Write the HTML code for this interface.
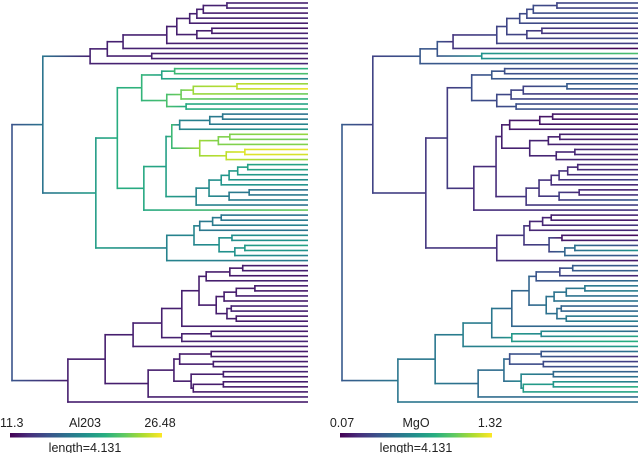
<!DOCTYPE html>
<html><head><meta charset="utf-8"><style>
html,body{margin:0;padding:0;background:#fff;width:640px;height:453px;overflow:hidden}
svg{display:block}
text{font-family:"Liberation Sans",sans-serif;font-size:12.5px;fill:#222}
</style></head><body>
<svg id="chart" width="640" height="453" viewBox="0 0 640 453" xmlns="http://www.w3.org/2000/svg">
<defs id="defs"></defs>
<g id="left"></g>
<g id="right"></g>
<g>
<rect x="10" y="433" width="152" height="4.5" fill="url(#cbar)"/>
<text x="0" y="427">11.3</text>
<text x="85" y="427" text-anchor="middle">Al203</text>
<text x="160" y="427" text-anchor="middle">26.48</text>
<text x="85" y="452" text-anchor="middle">length=4.131</text>
</g>
<g>
<rect x="340" y="433" width="152" height="4.5" fill="url(#cbar)"/>
<text x="342" y="427" text-anchor="middle">0.07</text>
<text x="416" y="427" text-anchor="middle">MgO</text>
<text x="490" y="427" text-anchor="middle">1.32</text>
<text x="416" y="452" text-anchor="middle">length=4.131</text>
</g>
</svg>
<script>
// Tree topology: [depth, children...]; 0 = leaf (values consumed in order)
const treeHeight = 4.131;
const topology =
[0,
 [0.43,
  [1.09,
   [1.33,
    [1.55,
     [2.16,
      [2.30,
       [2.48,[2.58,[2.67,[3.0,0,0],0],0],0],
       [2.58,[2.79,0,0],0]],
      0],
     0],
    [1.95,0,0]],
   0],
  [1.17,
   [1.47,
    [1.81,
     [2.09,[2.27,0,0],0],
     [2.16,[2.36,[2.53,[3.14,0,0],0],0],[2.43,0,0]]],
    [1.84,
     [2.15,
      [2.23,
       [2.34,[2.76,[2.94,0,0],0],0],
       [2.62,[2.88,[3.04,0,0],0],[2.99,[3.25,0,0],0]]],
      [2.57,
       [2.75,[2.92,[3.03,[3.15,[3.29,0,0],0],0],0],[3.03,[3.31,0,0],0]],
       0]],
     0]],
   [2.16,
    [2.54,
     [2.62,[2.80,[2.92,0,0],0],0],
     [2.89,[3.07,0,0],[3.11,[3.25,0,0],0]]],
    0]]],
 [0.78,
  [1.30,
   [1.69,
    [2.09,
     [2.37,
      [2.61,
       [2.71,[3.04,[3.22,0,0],0],0],
       [2.85,[2.96,[3.13,[3.39,0,0],0],0],[3.00,[3.06,0,0],[3.13,0,0]]]],
      0],
     [2.37,[2.78,0,0],0]],
    0],
   [1.90,
    [2.26,[2.34,[2.78,0,0],[2.81,0,0]],[2.50,[2.95,0,0],[2.53,[2.95,0,0],0]]],
    0]],
  0]];
const alValues = [12.6,12.9,12.4,12.8,12.5,12.2,12.7,12.9,12.5,13.0,12.7,12.4,12.9,
 21,22,18, 24,26,23,21,20,21, 17,17.5,18,19, 24,23,23.5,26,25.5,24, 20,20,19,18.5,19,17,17.5,18,17, 23,
 17,17.5,18,17,18.5,19,20,19,18,17.5,
 12.4,12.6,12.2,12.8,12.5,12.3,12.7,12.4,12.9,12.6,12.3,12.5,12.8,12.4,
 12.6,12.9,12.5,12.4,12.2,12.5,12.7,12.8,12.4,12.6,12.3,12.5,12.7,12.4,12.8];
const mgoValues = [0.35,0.3,0.4,0.33,0.35,0.25,0.28,0.35,0.3,0.08,0.95,0.45,0.45,
 0.35,0.4,0.45, 0.45,0.4,0.15,0.35,0.3,0.45, 0.15,0.15,0.12,0.18, 0.2,0.15,0.2,0.22,0.18,0.2, 0.2,0.22,0.25,0.3,0.2,0.18,0.25,0.4,0.3, 0.25,
 0.2,0.15,0.25,0.2,0.1,0.2,0.35,0.7,0.4,0.15,
 0.4,0.45,0.2,0.5, 0.55,0.6,0.5,0.55,0.45,0.5,0.55,0.6,0.5, 0.5,
 0.8,0.85,0.75, 0.55,
 0.25,0.3,0.4,0.45,0.55,0.6,0.85,0.8,0.5,0.55, 1.32];
const alRange = [11.3, 26.48];
const mgoRange = [0.07, 1.32];

const NS = "http://www.w3.org/2000/svg";
const stops = ["#440154","#472d7b","#3b528b","#2c728e","#21918c","#28ae80","#5ec962","#addc30","#fde725"];
function hex(h){return [1,3,5].map(i=>parseInt(h.substr(i,2),16));}
function viridis(t){
  t=Math.max(0,Math.min(1,t));
  const p=t*(stops.length-1), i=Math.min(stops.length-2,Math.floor(p)), f=p-i;
  const a=hex(stops[i]), b=hex(stops[i+1]);
  return "rgb("+a.map((v,k)=>Math.round(v+(b[k]-v)*f)).join(",")+")";
}
const defs=document.getElementById("defs");
const cb=document.createElementNS(NS,"linearGradient");
cb.setAttribute("id","cbar");
stops.forEach((s,i)=>{const st=document.createElementNS(NS,"stop");st.setAttribute("offset",(i/(stops.length-1)));st.setAttribute("stop-color",s);cb.appendChild(st);});
defs.appendChild(cb);

let leafIdx=0;
function build(t){
  if(t===0){return {leaf:true,depth:treeHeight,i:leafIdx++};}
  return {leaf:false,depth:t[0],kids:t.slice(1).map(build)};
}
const root=build(topology);
const nLeaves=leafIdx;
const yTop=3, yBot=402;
const yScale=i=>yTop+i*(yBot-yTop)/(nLeaves-1);
let gid=0;
function drawTree(g,x0,x1,vals,range){
  const xScale=d=>x0+d/treeHeight*(x1-x0);
  const cScale=v=>viridis((v-range[0])/(range[1]-range[0]));
  function assign(n){
    if(n.leaf){n.y=yScale(n.i);n.v=vals[n.i];n.cnt=1;return;}
    n.kids.forEach(assign);
    n.y=(n.kids[0].y+n.kids[n.kids.length-1].y)/2;
    n.cnt=n.kids.reduce((s,k)=>s+k.cnt,0);
    let ws=0,vs=0;
    n.kids.forEach(k=>{const w=Math.sqrt(k.cnt);ws+=w;vs+=w*k.v;});
    n.v=vs/ws;
  }
  assign(root);
  function draw(n,parent){
    const x=xScale(n.depth);
    if(parent){
      const px=xScale(parent.depth);
      const id="gr"+(gid++);
      const lg=document.createElementNS(NS,"linearGradient");
      lg.setAttribute("id",id);lg.setAttribute("gradientUnits","userSpaceOnUse");
      lg.setAttribute("x1",px);lg.setAttribute("x2",x);lg.setAttribute("y1",0);lg.setAttribute("y2",0);
      [[0,parent.v],[1,n.v]].forEach(([o,v])=>{const s=document.createElementNS(NS,"stop");s.setAttribute("offset",o);s.setAttribute("stop-color",cScale(v));lg.appendChild(s);});
      defs.appendChild(lg);
      const r=document.createElementNS(NS,"rect");
      
      
      r.setAttribute("x",px-0.7);r.setAttribute("y",n.y-0.8);r.setAttribute("width",x-px+0.7);r.setAttribute("height",1.6);
      r.setAttribute("fill","url(#"+id+")");
      g.appendChild(r);
    }
    if(!n.leaf){
      const y1=n.kids[0].y,y2=n.kids[n.kids.length-1].y;
      const l=document.createElementNS(NS,"line");
      
      
      l.setAttribute("x1",x);l.setAttribute("x2",x);l.setAttribute("y1",y1-0.8);l.setAttribute("y2",y2+0.8);
      l.setAttribute("stroke",cScale(n.v));l.setAttribute("stroke-width",1.6);
      g.appendChild(l);
      n.kids.forEach(k=>draw(k,n));
    }
  }
  draw(root,null);
}
drawTree(document.getElementById("left"),12,308,alValues,alRange);
drawTree(document.getElementById("right"),342,638,mgoValues,mgoRange);
</script>
</body></html>
